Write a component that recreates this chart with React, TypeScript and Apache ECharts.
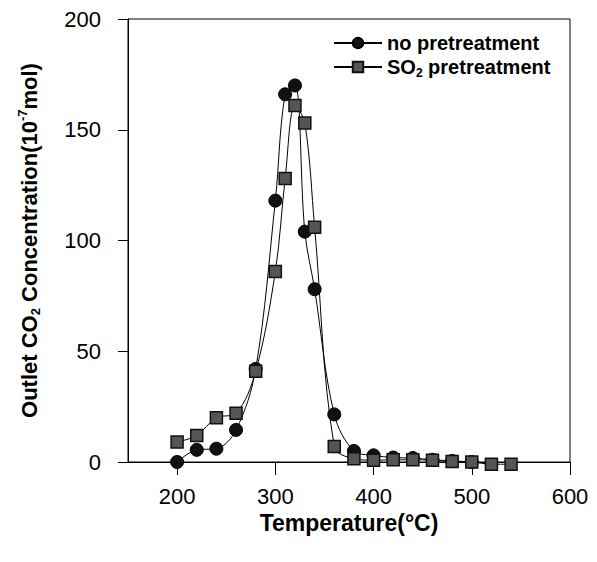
import React, { useEffect, useRef } from "react";
import * as echarts from "echarts";

const tempNo = [200, 220, 240, 260, 280, 300, 310, 320, 330, 340, 360, 380, 400, 420, 440, 460, 480, 500];
const concNo = [0, 5.5, 6, 14.5, 42, 118, 166, 170, 104, 78, 21.5, 5, 3, 2, 1.8, 1, 0.5, 0];
const tempSO2 = [200, 220, 240, 260, 280, 300, 310, 320, 330, 340, 360, 380, 400, 420, 440, 460, 480, 500, 520, 540];
const concSO2 = [9, 12, 20, 22, 41, 86, 128, 161, 153, 106, 7, 1.5, 0.8, 1, 1, 0.8, 0.2, 0, -1, -1];
const xTicks = [200, 300, 400, 500, 600];
const seriesNames = ["no pretreatment", "SO2 pretreatment"];

const FONT = "'Liberation Sans', Arial, sans-serif";

export default function App() {
  const ref = useRef<HTMLDivElement>(null);
  useEffect(() => {
    document.body.style.margin = "0";
    if (!ref.current) return;
    const chart = echarts.init(ref.current, null, { renderer: "svg" });
    chart.setOption({
      animation: false,
      backgroundColor: "#fff",
      textStyle: { fontFamily: FONT },
      grid: { left: 128, right: 27, top: 19, bottom: 100, show: true, borderColor: "#000", borderWidth: 1 },
      legend: {
        orient: "vertical",
        left: 328,
        top: 28,
        itemWidth: 48,
        itemHeight: 13,
        itemGap: 4,
        data: seriesNames,
        formatter: (name: string) =>
          name === "SO2 pretreatment" ? "{a|SO}{s|2}{a| pretreatment}" : "{a|no pretreatment}",
        textStyle: {
          rich: {
            a: { fontSize: 20, fontWeight: "bold", color: "#000", fontFamily: FONT, lineHeight: 24 },
            s: { fontSize: 12, fontWeight: "bold", color: "#000", fontFamily: FONT, verticalAlign: "bottom", lineHeight: 24, padding: [10, 0, 0, 0] },
          },
        },
      },
      xAxis: {
        type: "value",
        min: 150,
        max: 600,
        name: "Temperature(°C)",
        nameLocation: "middle",
        nameGap: 47,
        nameTextStyle: { fontSize: 23, fontWeight: "bold", color: "#000", fontFamily: FONT },
        axisLine: { onZero: false, lineStyle: { color: "#000", width: 1 } },
        axisTick: { show: true, length: 13, customValues: xTicks, lineStyle: { color: "#000" } },
        axisLabel: { customValues: xTicks, fontSize: 22, color: "#000", margin: 23, fontFamily: FONT },
        splitLine: { show: false },
      },
      yAxis: {
        type: "value",
        min: 0,
        max: 200,
        interval: 50,
        name: "{b|Outlet CO}{sub|2}{b| Concentration(10}{sup|-7}{b|mol)}",
        nameLocation: "middle",
        nameGap: 86,
        nameTextStyle: {
          rich: {
            b: { fontSize: 22, fontWeight: "bold", color: "#000", fontFamily: FONT, lineHeight: 26 },
            sub: { fontSize: 13, fontWeight: "bold", color: "#000", fontFamily: FONT, verticalAlign: "bottom", lineHeight: 26, padding: [10, 0, 0, 0] },
            sup: { fontSize: 13, fontWeight: "bold", color: "#000", fontFamily: FONT, verticalAlign: "top", lineHeight: 26, padding: [0, 0, 10, 0] },
          },
        },
        axisLine: { show: true, lineStyle: { color: "#000", width: 1 } },
        axisTick: { show: true, length: 10, lineStyle: { color: "#000" } },
        axisLabel: { fontSize: 22, color: "#000", margin: 27, fontFamily: FONT },
        splitLine: { show: false },
      },
      series: [
        {
          name: seriesNames[0],
          type: "line",
          data: tempNo.map((t, i) => [t, concNo[i]]),
          smooth: 0.35,
          clip: false,
          symbol: "circle",
          symbolSize: 13,
          itemStyle: { color: "#111", borderColor: "#000", borderWidth: 1 },
          lineStyle: { color: "#000", width: 1 },
        },
        {
          name: seriesNames[1],
          type: "line",
          data: tempSO2.map((t, i) => [t, concSO2[i]]),
          smooth: 0.35,
          clip: false,
          symbol: "rect",
          symbolSize: 12,
          itemStyle: { color: "#555", borderColor: "#111", borderWidth: 1.5 },
          lineStyle: { color: "#000", width: 1 },
        },
      ],
    });
    return () => chart.dispose();
  }, []);
  return <div ref={ref} style={{ width: 597, height: 562 }} />;
}
